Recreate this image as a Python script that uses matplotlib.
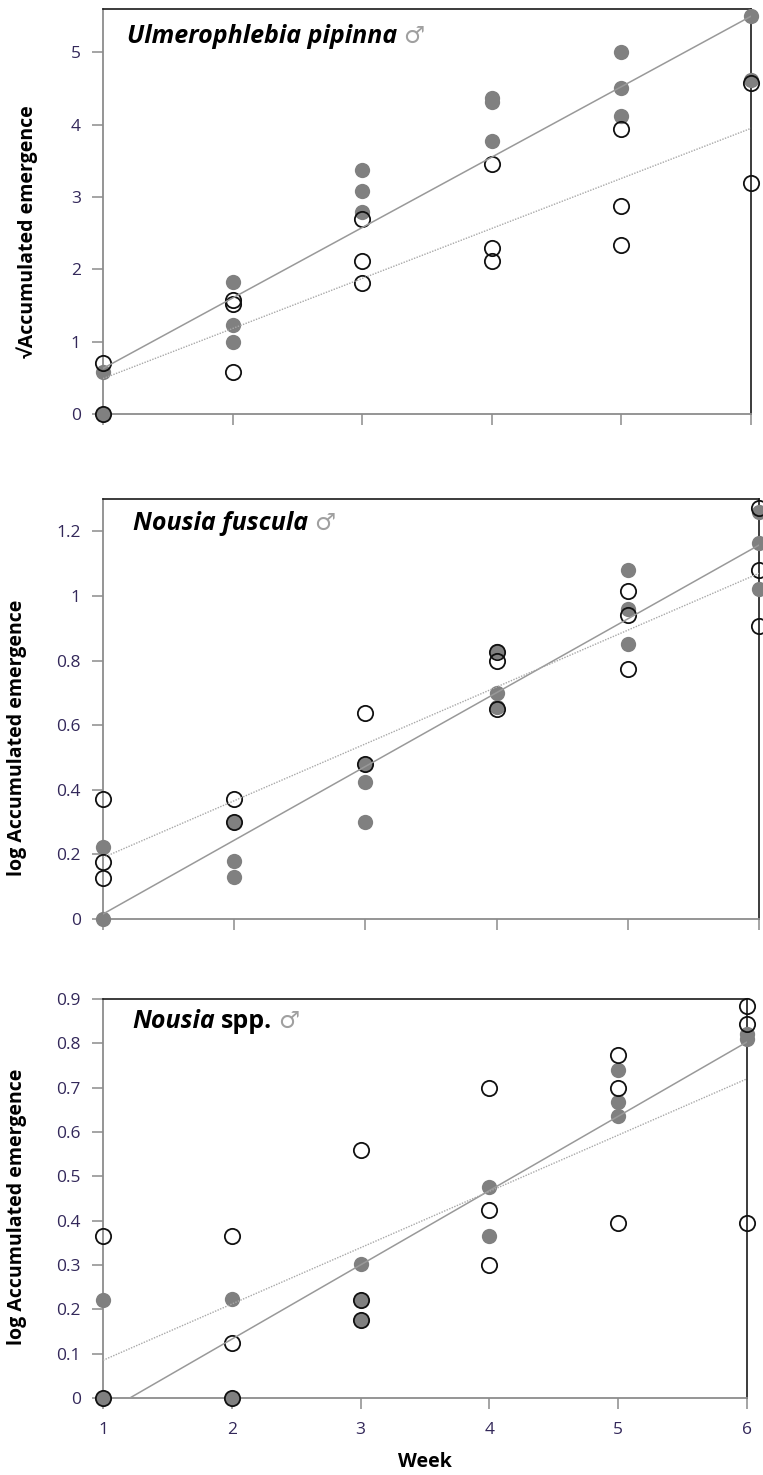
import matplotlib
matplotlib.use("Agg")
import matplotlib.pyplot as plt
import numpy as np

plt.rcParams["font.family"] = ["Open Sans", "DejaVu Sans"]

WEEKS = [1, 2, 3, 4, 5, 6]

# Ulmerophlebia pipinna, square-root scale
ULM_FILLED = [
    [0.58, 0.0],
    [1.82, 1.23, 1.0],
    [3.37, 3.08, 2.79],
    [4.37, 4.32, 3.78],
    [5.0, 4.51, 4.12],
    [5.51, 4.62],
]
ULM_OPEN = [
    [0.71, 0.0],
    [1.57, 1.52, 0.58],
    [2.69, 2.12, 1.81],
    [3.45, 2.3, 2.12],
    [3.94, 2.87, 2.34],
    [4.57, 3.2],
]
ULM_FIT_FILLED = (0.974, -0.344)
ULM_FIT_OPEN = (0.692, -0.202)

# Nousia fuscula, log scale
NFU_FILLED = [
    [0.223, 0.0],
    [0.30, 0.18, 0.13],
    [0.48, 0.425, 0.30],
    [0.83, 0.70, 0.655],
    [1.08, 0.96, 0.85],
    [1.26, 1.163, 1.02],
]
NFU_OPEN = [
    [0.37, 0.177, 0.127],
    [0.372, 0.30],
    [0.638, 0.48],
    [0.825, 0.80, 0.65],
    [1.015, 0.94, 0.775],
    [1.273, 1.08, 0.906],
]
NFU_FIT_FILLED = (0.2284, -0.213)
NFU_FIT_OPEN = (0.176, 0.014)

# Nousia spp., log scale
NSP_FILLED = [
    [0.222, 0.0],
    [0.223, 0.0],
    [0.303, 0.22, 0.175],
    [0.475, 0.366],
    [0.74, 0.667, 0.636],
    [0.82, 0.81],
]
NSP_OPEN = [
    [0.365, 0.0],
    [0.365, 0.124, 0.0],
    [0.56, 0.22, 0.175],
    [0.70, 0.423, 0.30],
    [0.774, 0.70, 0.394],
    [0.885, 0.844, 0.394],
]
NSP_FIT_FILLED = (0.1676, -0.2025)
NSP_FIT_OPEN = (0.127, -0.042)

FIG_W, FIG_H = 763, 1475
TICK_COLOR = "#33285a"
AXIS_GRAY = "#8c8c8c"
FILL_GRAY = "#808080"


def px_box(left, right, top, bottom):
    return [left / FIG_W, 1 - bottom / FIG_H, (right - left) / FIG_W, (bottom - top) / FIG_H]


def draw_panel(ax, filled, opened, fit_filled, fit_open, ymax, yticks, show_xlabels):
    for wk, vals in zip(WEEKS, filled):
        ax.plot([wk] * len(vals), vals, "o", ms=11, mfc=FILL_GRAY, mec="none",
                clip_on=False, zorder=3)
    for wk, vals in zip(WEEKS, opened):
        ax.plot([wk] * len(vals), vals, "o", ms=11, mfc="none", mec="#111111",
                mew=1.3, clip_on=False, zorder=4)

    xs = np.linspace(1, 6, 200)
    a, b = fit_filled
    ax.plot(xs, a * xs + b, "-", color="#999999", lw=1.1, zorder=5)
    a, b = fit_open
    ax.plot(xs, a * xs + b, color="#a8a8a8", lw=1.0, ls=(0, (1, 1)), zorder=5)

    ax.set_xlim(1, 6)
    ax.set_ylim(0, ymax)
    ax.set_xticks(WEEKS)
    ax.set_yticks(yticks)
    ax.set_yticklabels([f"{t:g}" for t in yticks])
    if not show_xlabels:
        ax.set_xticklabels([])

    for side in ("left", "bottom"):
        ax.spines[side].set_color(AXIS_GRAY)
        ax.spines[side].set_linewidth(1.3)
    for side in ("top", "right"):
        ax.spines[side].set_color("#1a1a1a")
        ax.spines[side].set_linewidth(1.2)
    ax.tick_params(axis="both", direction="out", length=8, width=1.1, color=AXIS_GRAY,
                   labelsize=12.5, labelcolor=TICK_COLOR)
    ax.tick_params(axis="y", pad=8)
    ax.tick_params(axis="x", pad=9)


def panel_title(ax, x, y, parts):
    # lay the pieces out one after another on a shared baseline
    renderer = fig.canvas.get_renderer()
    for text, style in parts:
        if text == "\u2642":
            kw = dict(fontsize=17, color="#a0a0a0", fontweight="normal",
                      family=["DejaVu Sans"])
        else:
            kw = dict(fontsize=18, color="black", fontweight="bold", fontstyle=style)
        t = ax.text(x, y, text, transform=ax.transAxes, ha="left", va="baseline", **kw)
        bb = t.get_window_extent(renderer)
        x = ax.transAxes.inverted().transform((bb.x1 + 6, bb.y0))[0]


fig = plt.figure(figsize=(FIG_W / 100, FIG_H / 100), dpi=100)

ax1 = fig.add_axes(px_box(103, 751, 9, 414))
draw_panel(ax1, ULM_FILLED, ULM_OPEN, ULM_FIT_FILLED, ULM_FIT_OPEN,
           5.6, [0, 1, 2, 3, 4, 5], False)
panel_title(ax1, 0.037, 0.916, [("Ulmerophlebia pipinna", "italic"), ("\u2642", "normal")])

ax2 = fig.add_axes(px_box(103, 759, 499, 919))
draw_panel(ax2, NFU_FILLED, NFU_OPEN, NFU_FIT_FILLED, NFU_FIT_OPEN,
           1.3, [0, 0.2, 0.4, 0.6, 0.8, 1, 1.2], False)
panel_title(ax2, 0.046, 0.926, [("Nousia fuscula", "italic"), ("\u2642", "normal")])

ax3 = fig.add_axes(px_box(103, 747, 999, 1398))
draw_panel(ax3, NSP_FILLED, NSP_OPEN, NSP_FIT_FILLED, NSP_FIT_OPEN,
           0.9, [0, 0.1, 0.2, 0.3, 0.4, 0.5, 0.6, 0.7, 0.8, 0.9], True)
panel_title(ax3, 0.045, 0.927, [("Nousia", "italic"), ("spp.", "normal"), ("\u2642", "normal")])

fig.text(27 / FIG_W, 1 - 232 / FIG_H, "\u221aAccumulated emergence", rotation=90,
         ha="center", va="center", fontsize=14, fontweight="bold")
fig.text(17 / FIG_W, 1 - 738 / FIG_H, "log Accumulated emergence", rotation=90,
         ha="center", va="center", fontsize=14, fontweight="bold")
fig.text(17 / FIG_W, 1 - 1207 / FIG_H, "log Accumulated emergence", rotation=90,
         ha="center", va="center", fontsize=14, fontweight="bold")
fig.text(425 / FIG_W, 1 - 1462 / FIG_H, "Week", ha="center", va="center",
         fontsize=14, fontweight="bold")

fig.savefig("out.png", dpi=100)
